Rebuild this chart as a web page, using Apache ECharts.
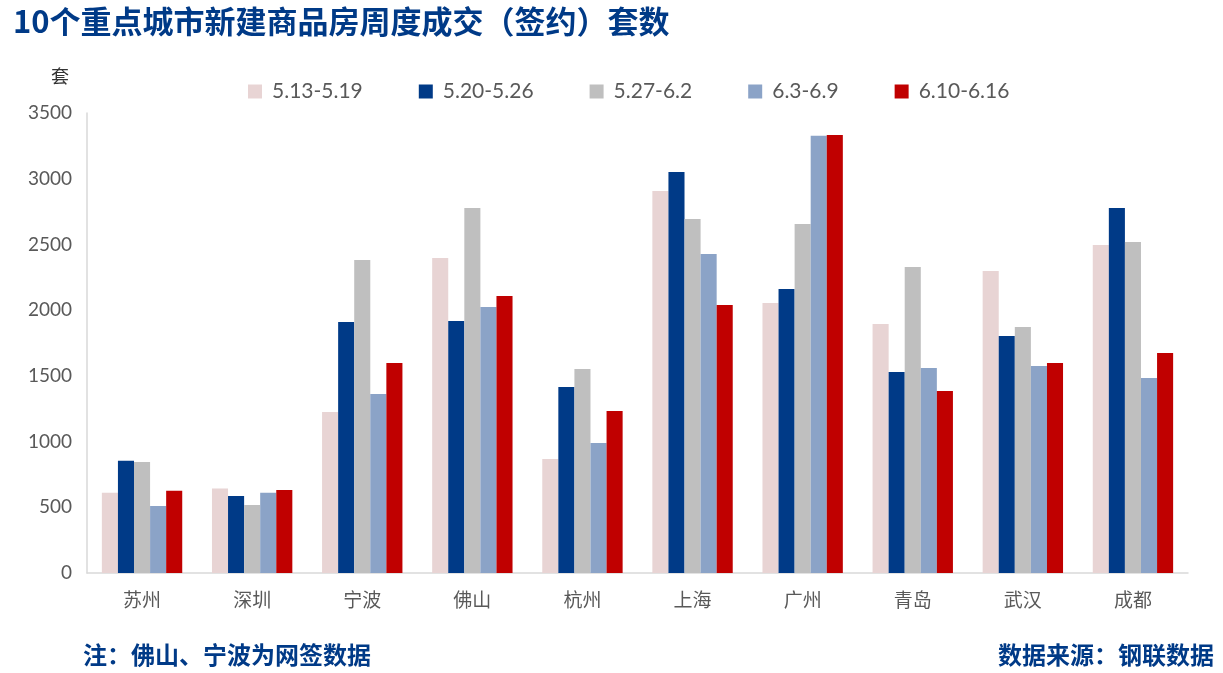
<!DOCTYPE html>
<html><head><meta charset="utf-8">
<script src="https://cdn.jsdelivr.net/npm/echarts@6/dist/echarts.min.js"></script>
<style>html,body{margin:0;padding:0;background:#fff}#c{width:1223px;height:673px}</style>
</head><body><div id="c"></div>
<script>
const categories = ['苏州','深圳','宁波','佛山','杭州','上海','广州','青岛','武汉','成都'];
const seriesNames = ['5.13-5.19','5.20-5.26','5.27-6.2','6.3-6.9','6.10-6.16'];
const w0513 = [611, 642, 1225, 2397, 868, 2907, 2055, 1895, 2298, 2496];
const w0520 = [855, 586, 1910, 1918, 1416, 3052, 2161, 1530, 1804, 2778];
const w0527 = [845, 517, 2382, 2778, 1553, 2694, 2656, 2329, 1872, 2519];
const w0603 = [510, 611, 1362, 2024, 989, 2428, 3326, 1560, 1575, 1484];
const w0610 = [626, 632, 1598, 2108, 1233, 2040, 3333, 1385, 1598, 1674];
const yTicks = {min: 0, max: 3500, interval: 500};
const colors = ['#E8D4D4', '#003A87', '#BFBFBF', '#8BA3C7', '#C00000'];
const allData = [w0513, w0520, w0527, w0603, w0610];

const chart = echarts.init(document.getElementById('c'));
chart.setOption({
  animation: false,
  title: [
    {text: '10个重点城市新建商品房周度成交（签约）套数', left: 8, top: 1,
     textStyle: {fontFamily: 'Noto Sans CJK SC', fontWeight: 'bold', fontSize: 31, color: '#003A87'}},
    {text: '注：佛山、宁波为网签数据', left: 78, top: 638,
     textStyle: {fontFamily: 'Noto Sans CJK SC', fontWeight: 'bold', fontSize: 24, color: '#003A87'}},
    {text: '数据来源：钢联数据', right: 4, top: 638,
     textStyle: {fontFamily: 'Noto Sans CJK SC', fontWeight: 'bold', fontSize: 24, color: '#003A87'}}
  ],
  legend: {
    top: 76, left: 243,
    itemWidth: 14, itemHeight: 14, itemGap: 56,
    icon: 'rect',
    textStyle: {fontFamily: 'Lato', fontSize: 21, color: '#595959', padding: [0, 0, 0, 5]},
    data: seriesNames
  },
  grid: {left: 87, right: 35, top: 113, bottom: 100},
  xAxis: {
    type: 'category', data: categories,
    axisLine: {lineStyle: {color: '#D9D9D9', width: 1.5}},
    axisTick: {show: false},
    axisLabel: {fontFamily: 'Noto Sans CJK SC', fontSize: 19, color: '#595959', margin: 17}
  },
  yAxis: {
    type: 'value', min: yTicks.min, max: yTicks.max, interval: yTicks.interval,
    name: '套', nameLocation: 'end', nameGap: 28,
    nameTextStyle: {fontFamily: 'Noto Sans CJK SC', fontSize: 18, color: '#333', align: 'right', padding: [0, 18, 0, 0]},
    axisLine: {show: true, lineStyle: {color: '#D9D9D9', width: 1.5}},
    axisTick: {show: false},
    splitLine: {show: false},
    axisLabel: {fontFamily: 'Lato', fontSize: 19, color: '#595959', margin: 15, formatter: v => String(v)}
  },
  series: seriesNames.map((n, i) => ({
    name: n, type: 'bar', data: allData[i],
    itemStyle: {color: colors[i]},
    barGap: '0%', barCategoryGap: '27%'
  }))
});
</script></body></html>
